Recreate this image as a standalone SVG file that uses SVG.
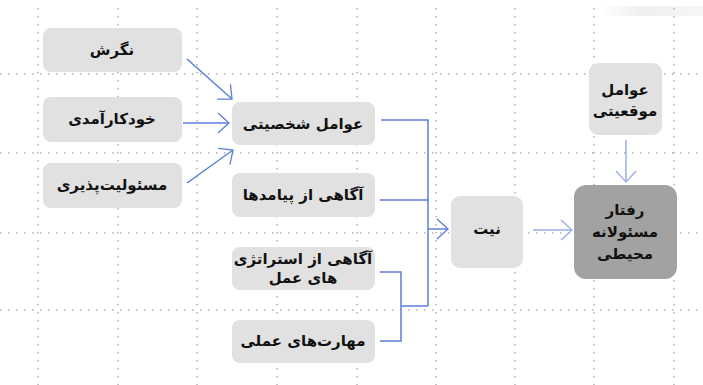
<svg xmlns="http://www.w3.org/2000/svg" width="703" height="385" viewBox="0 0 703 385">
<defs>
<style>
.grid{stroke:#ababab;stroke-width:1.4;stroke-dasharray:1.4 6.6;fill:none}
.box{fill:#e1e1e1}
.dark{fill:#a2a2a2}
.t{font-family:"DejaVu Sans","Noto Sans",sans-serif;font-weight:bold;font-size:15px;fill:#111111;text-anchor:middle}
.c{stroke:#5b7fd8;stroke-width:1.5;fill:none}
.c2{stroke:#9aaee4;stroke-width:1.5;fill:none}
</style>
<marker id="ah" markerUnits="userSpaceOnUse" markerWidth="14" markerHeight="22" refX="12" refY="11" orient="auto">
<path d="M1,1 L12,11 L1,21" fill="none" stroke="#5b7fd8" stroke-width="1.3"/>
</marker>
<marker id="ah2" markerUnits="userSpaceOnUse" markerWidth="14" markerHeight="22" refX="12" refY="11" orient="auto">
<path d="M1,1 L12,11 L1,21" fill="none" stroke="#9aaee4" stroke-width="1.3"/>
</marker>
<linearGradient id="sh" x1="0" y1="0" x2="1" y2="0">
<stop offset="0" stop-color="#ffffff"/>
<stop offset="0.4" stop-color="#ececec"/>
<stop offset="1" stop-color="#f4f4f4"/>
</linearGradient>
</defs>
<rect width="703" height="385" fill="#ffffff"/>
<rect x="600" y="6" width="103" height="10" fill="url(#sh)" opacity="0.8"/>
<g id="grid">
<path class="grid" d="M38,8V385M118,8V385M197,8V385M277,8V385M357,8V385M436,8V385M515,8V385M594,8V385M674,8V385"/>
<path class="grid" d="M0,74H703M0,153H703M0,233H703M0,310H703"/>
</g>
<g id="n-negaresh"><rect class="box" x="43" y="28" width="139" height="44" rx="8"/><text class="t" x="112" y="55">نگرش</text></g>
<g id="n-khodkaramadi"><rect class="box" x="43" y="97" width="139" height="45" rx="8"/><text class="t" x="112" y="124">خودکارآمدی</text></g>
<g id="n-masouliat"><rect class="box" x="43" y="163" width="139" height="45" rx="8"/><text class="t" x="112" y="190">مسئولیت‌پذیری</text></g>
<g id="n-shakhsiati"><rect class="box" x="232" y="102" width="143" height="43" rx="8"/><text class="t" x="303" y="129">عوامل شخصیتی</text></g>
<g id="n-payamadha"><rect class="box" x="232" y="173" width="143" height="44" rx="8"/><text class="t" x="303" y="200">آگاهی از پیامدها</text></g>
<g id="n-strategy"><rect class="box" x="232" y="247" width="143" height="43" rx="8"/><text class="t" x="303" y="264">آگاهی از استراتژی</text><text class="t" x="303" y="283">های عمل</text></g>
<g id="n-maharat"><rect class="box" x="232" y="320" width="143" height="43" rx="8"/><text class="t" x="303" y="346">مهارت‌های عملی</text></g>
<g id="n-niyat"><rect class="box" x="451" y="196" width="72" height="72" rx="9"/><text class="t" x="487" y="234">نیت</text></g>
<g id="n-mowqeiati"><rect class="box" x="589" y="63" width="73" height="72" rx="9"/><text class="t" x="625" y="95">عوامل</text><text class="t" x="625" y="116">موقعیتی</text></g>
<g id="n-raftar"><rect class="dark" x="574" y="185" width="103" height="94" rx="12"/><text class="t" x="625" y="215">رفتار</text><text class="t" x="625" y="237">مسئولانه</text><text class="t" x="625" y="259">محیطی</text></g>
<g id="connectors">
<path class="c" d="M187,59L232,99" marker-end="url(#ah)"/>
<path class="c" d="M183,123H229" marker-end="url(#ah)"/>
<path class="c" d="M187,183L233,150" marker-end="url(#ah)"/>
<path class="c" d="M381,120H428V306M380,200H428M401,306H428"/>
<path class="c" d="M428,229H448" marker-end="url(#ah)"/>
<path class="c" d="M380,272H401V341H380"/>
<path class="c2" d="M533,230H572" marker-end="url(#ah2)"/>
<path class="c2" d="M626,140V182" marker-end="url(#ah2)"/>
</g>
</svg>
